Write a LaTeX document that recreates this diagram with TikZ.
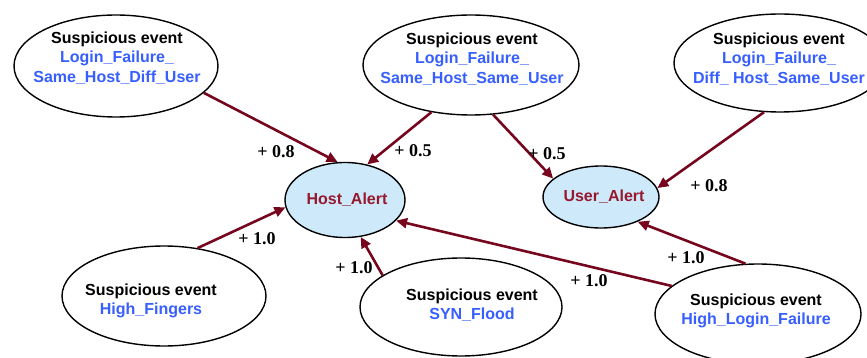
\documentclass[tikz,border=0pt]{standalone}
\usepackage{fontspec}
\setmainfont{Liberation Serif}
\setsansfont{Liberation Sans}
\usetikzlibrary{shapes.geometric,arrows.meta}
\definecolor{linkred}{RGB}{118,6,30}
\definecolor{evblue}{RGB}{55,95,255}
\definecolor{alertfill}{RGB}{205,233,250}
\definecolor{alerttext}{RGB}{150,25,45}
\begin{document}
\begin{tikzpicture}[x=1pt,y=-1pt,
  evt/.style={ellipse,draw=black,line width=1.4pt,inner sep=0pt,fill=white},
  alert/.style={ellipse,draw=black,line width=1.4pt,inner sep=0pt,fill=alertfill},
  evtxt/.style={align=center,inner sep=0pt,
    font=\sffamily\bfseries\fontsize{16}{19.5}\selectfont},
  alerttxt/.style={inner sep=0pt,text=alerttext,
    font=\sffamily\bfseries\fontsize{16}{18}\selectfont},
  link/.style={draw=linkred,line width=2.6pt,
    -{Triangle[length=11pt,width=10pt]}},
  wt/.style={inner sep=0pt,font=\rmfamily\bfseries\fontsize{18}{20}\selectfont}]
\useasboundingbox (0,0) rectangle (867,358);

% suspicious events (top row)
\node[evt,minimum width=204pt,minimum height=102pt] (e1) at (116,66) {};
\node[evtxt] (e1t) at (117,58) {Suspicious event\\
  \textcolor{evblue}{Login\_Failure\_}\\
  \textcolor{evblue}{Same\_Host\_Diff\_User}};
\node[evt,minimum width=216pt,minimum height=100pt] (e2) at (471,65) {};
\node[evtxt] (e2t) at (472,59) {Suspicious event\\
  \textcolor{evblue}{Login\_Failure\_}\\
  \textcolor{evblue}{Same\_Host\_Same\_User}};
\node[evt,minimum width=212pt,minimum height=98pt] (e3) at (780,63) {};
\node[evtxt] (e3t) at (779,59) {Suspicious event\\
  \textcolor{evblue}{Login\_Failure\_}\\
  \textcolor{evblue}{Diff\_ Host\_Same\_User}};

% alerts
\node[alert,minimum width=120pt,minimum height=75pt] (host) at (345,200) {};
\node[alerttxt] (hostt) at (347,200) {Host\_Alert};
\node[alert,minimum width=116pt,minimum height=62pt] (user) at (601,197) {};
\node[alerttxt] (usert) at (604,197) {User\_Alert};

% suspicious events (bottom row)
\node[evt,minimum width=204pt,minimum height=100pt] (e4) at (164,296) {};
\node[evtxt] (e4t) at (151,301) {Suspicious event\\
  \textcolor{evblue}{High\_Fingers}};
\node[evt,minimum width=202pt,minimum height=98pt] (e5) at (461,307) {};
\node[evtxt] (e5t) at (472,305) {Suspicious event\\
  \textcolor{evblue}{SYN\_Flood}};
\node[evt,minimum width=206pt,minimum height=100pt] (e6) at (758,314) {};
\node[evtxt] (e6t) at (756,311) {Suspicious event\\
  \textcolor{evblue}{High\_Login\_Failure}};

% weighted links
\draw[link] (e1.343) -- (host.101);
\draw[link] (e2.230) -- (host.58);
\draw[link] (e2.294) -- (user.159);
\draw[link] (e3.252) -- (user.9);
\draw[link] (e4.55) -- (host.187);
\draw[link] (e5.158) -- (host.293);
\draw[link] (e6.162) -- (host.338);
\draw[link] (e6.104) -- (user.326);

% link weights
\node[wt] (w1) at (276,152) {+ 0.8};
\node[wt] (w2) at (413,151) {+ 0.5};
\node[wt] (w3) at (547,154) {+ 0.5};
\node[wt] (w4) at (709,186) {+ 0.8};
\node[wt] (w5) at (257,239) {+ 1.0};
\node[wt] (w6) at (354,268) {+ 1.0};
\node[wt] (w7) at (589,281) {+ 1.0};
\node[wt] (w8) at (686,258) {+ 1.0};
\end{tikzpicture}
\end{document}
